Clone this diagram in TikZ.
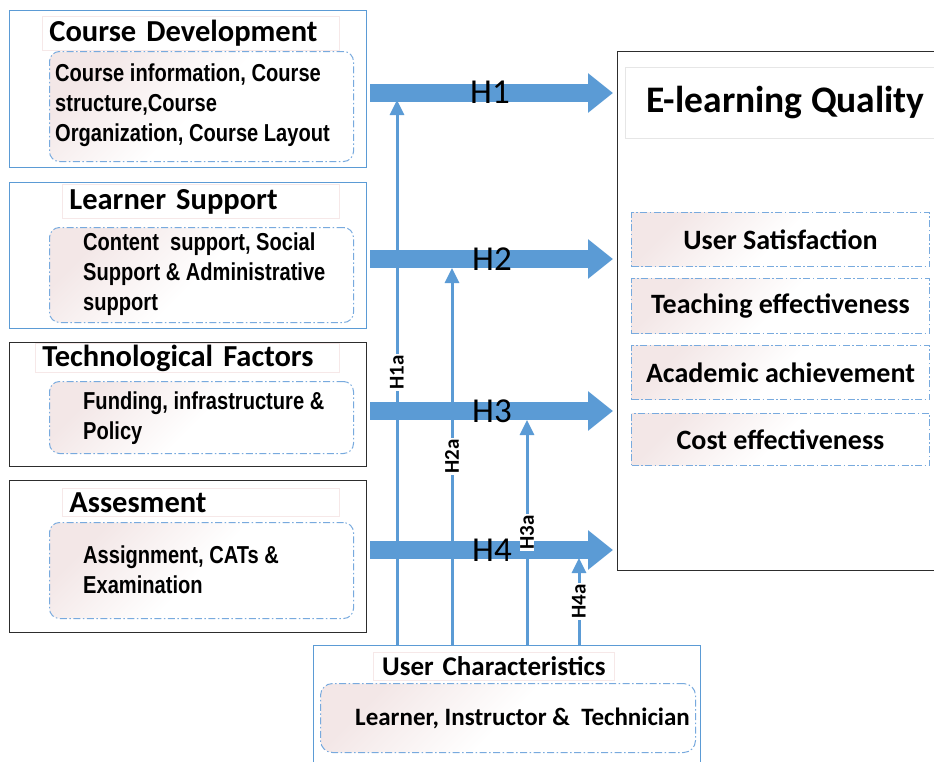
\documentclass[tikz,border=0pt]{standalone}
\usepackage{fontspec}
\setmainfont{Carlito}
\newfontfamily\narrowarial[FakeStretch=0.82]{Liberation Sans}
\usetikzlibrary{positioning, arrows.meta}
\definecolor{hblue}{RGB}{91,155,213}
\definecolor{dashblue}{RGB}{120,170,222}
\definecolor{softpink}{RGB}{243,231,231}
\definecolor{titleline}{RGB}{246,232,232}
\definecolor{greyline}{RGB}{230,230,230}
\definecolor{darkline}{RGB}{45,45,45}
\tikzset{
  outerbox/.style={draw=#1, line width=1.3pt, anchor=north west, minimum width=357pt},
  titlebox/.style={draw=titleline, fill=white, line width=0.8pt, anchor=north west, align=left, inner xsep=7pt, inner ysep=0pt, font=\bfseries\fontsize{30.5}{33}\selectfont},
  itembox/.style={draw=dashblue, line width=1pt, dash pattern=on 7pt off 2.5pt on 1.5pt off 2.5pt, top color=softpink, bottom color=white, middle color=white, shading angle=45, anchor=north west},
  itemtext/.style={anchor=west, align=left, inner sep=0pt, font=\narrowarial\bfseries\fontsize{24.5}{30}\selectfont},
  qualtext/.style={font=\bfseries\fontsize{28}{28}\selectfont},
  bigarrow/.style={hblue, line width=18pt, -{Triangle[width=38pt,length=25pt]}, shorten <=3pt, shorten >=4pt},
  thinarrow/.style={hblue, line width=3pt, -{Triangle[width=14pt,length=15pt]}},
  hlabel/.style={font=\fontsize{35}{35}\selectfont, inner sep=0pt},
  alabel/.style={fill=white, text=black, rotate=90, inner xsep=1pt, inner ysep=0pt, font=\bfseries\fontsize{21}{21}\selectfont},
}
\begin{document}
\begin{tikzpicture}[x=1pt, y=1pt]
\useasboundingbox (0,0) rectangle (934,-761);

% left blocks
\node[outerbox=hblue, minimum height=157pt] (cd) at (9,-10) {};
\node[titlebox, text width=283pt, minimum height=34pt] (cdtitle) at (42,-16) {Course Development};
\node[itembox, rounded corners=10pt, minimum width=304pt, minimum height=110pt] (cdbox) at (49,-51) {};
\node[itemtext] (cdtext) at (55,-105.5) {Course information, Course\\structure,Course\\Organization, Course Layout};

\node[outerbox=hblue, minimum height=146pt] (ls) at (9,-182) {};
\node[titlebox, text width=263pt, minimum height=34pt] (lstitle) at (62,-184) {Learner Support};
\node[itembox, rounded corners=10pt, minimum width=304pt, minimum height=95pt] (lsbox) at (49,-227) {};
\node[itemtext] (lstext) at (83,-274) {Content\ \ support, Social\\Support \& Administrative\\support};

\node[outerbox=darkline, minimum height=124pt] (tf) at (9,-342) {};
\node[titlebox, text width=290pt, minimum height=29pt] (tftitle) at (35,-343) {Technological Factors};
\node[itembox, rounded corners=10pt, minimum width=304pt, minimum height=72pt] (tfbox) at (49,-381) {};
\node[itemtext] (tftext) at (83,-418) {Funding, infrastructure \&\\Policy};

\node[outerbox=darkline, minimum height=152pt] (as) at (9,-480) {};
\node[titlebox, text width=263pt, minimum height=28pt] (astitle) at (62,-488) {Assesment};
\node[itembox, rounded corners=10pt, minimum width=304pt, minimum height=96pt] (asbox) at (49,-522) {};
\node[itemtext] (astext) at (83,-569.5) {Assignment, CATs \&\\Examination};

% outcome block
\node[outerbox=darkline, minimum width=340pt, minimum height=519pt] (eq) at (617,-51) {};
\node[draw=greyline, fill=white, line width=1pt, anchor=north west, minimum width=320pt, minimum height=71pt, font=\bfseries\fontsize{37.5}{38}\selectfont] (eqtitle) at (625,-67) {E-learning Quality};
\node[itembox, minimum width=298pt, minimum height=54pt, qualtext] (us) at (631,-212) {User Satisfaction};
\node[itembox, minimum width=298pt, minimum height=55pt, qualtext] (te) at (631,-278) {Teaching effectiveness};
\node[itembox, minimum width=298pt, minimum height=54pt, qualtext] (aa) at (631,-345) {Academic achievement};
\node[itembox, minimum width=298pt, minimum height=52pt, qualtext] (ce) at (631,-413) {Cost effectiveness};

% moderator block
\node[outerbox=hblue, minimum width=387pt, minimum height=130pt] (uc) at (313,-645) {};
\node[titlebox, inner xsep=0pt, align=center, text width=241pt, minimum height=28pt, font=\bfseries\fontsize{27}{30}\selectfont] (uctitle) at (373,-652) {User Characteristics};
\node[itembox, rounded corners=12pt, minimum width=375pt, minimum height=69pt] (ucbox) at (320,-683) {};
\node[itemtext, font=\bfseries\fontsize{25}{28}\selectfont] (uctext) at (355,-718) {Learner, Instructor \&\ \ Technician};

% hypotheses
\coordinate (y1) at (0,-93);
\coordinate (y2) at (0,-259);
\coordinate (y3) at (0,-411);
\coordinate (y4) at (0,-550);
\draw[bigarrow] (cd.east |- y1) -- (eq.west |- y1);
\draw[bigarrow] (ls.east |- y2) -- (eq.west |- y2);
\draw[bigarrow] (tf.east |- y3) -- (eq.west |- y3);
\draw[bigarrow] (as.east |- y4) -- (eq.west |- y4);

\coordinate (t1) at (397,-100);
\coordinate (t2) at (452,-268);
\coordinate (t3) at (527,-420);
\coordinate (t4) at (579,-558);
\draw[thinarrow] (uc.north -| t1) -- (t1) node[alabel, midway] (h1a) {H1a};
\draw[thinarrow] (uc.north -| t2) -- (t2) node[alabel, midway] (h2a) {H2a};
\draw[thinarrow] (uc.north -| t3) -- (t3) node[alabel, midway] (h3a) {H3a};
\draw[thinarrow] (uc.north -| t4) -- (t4) node[alabel, midway] (h4a) {H4a};

\node[hlabel] (h1) at (490,-92) {H1};
\node[hlabel] (h2) at (492,-259) {H2};
\node[hlabel] (h3) at (492,-411) {H3};
\node[hlabel] (h4) at (492,-550) {H4};
\end{tikzpicture}
\end{document}
